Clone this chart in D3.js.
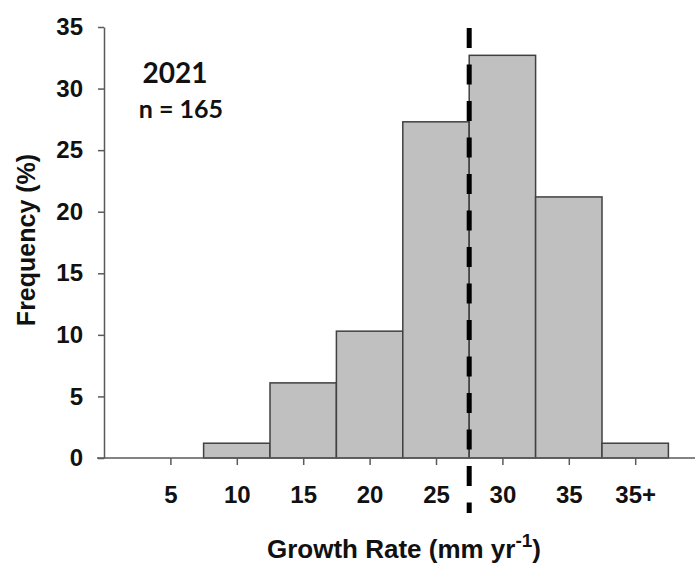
<!DOCTYPE html>
<html>
<head>
<meta charset="utf-8">
<script src="https://cdn.jsdelivr.net/npm/d3@7"></script>
<style>
  body { margin: 0; background: #fff; }
  svg { display: block; }
</style>
</head>
<body>
<svg id="chart"></svg>
<script>
// histogram bins (growth rate, mm/yr) and frequency (%)
const binLabels = ['5', '10', '15', '20', '25', '30', '35', '35+'];
const binCenters = [5, 10, 15, 20, 25, 30, 35, 40];
const frequency = [0, 1.2, 6.1, 10.3, 27.3, 32.7, 21.2, 1.2];
const yTicks = [0, 5, 10, 15, 20, 25, 30, 35];
const refLine = 27.5;
const yearLabel = '2021';
const nLabel = 'n = 165';

const W = 697, H = 565;
const binWidth = 5;

const svg = d3.select('#chart')
  .attr('width', W)
  .attr('height', H);

const x = d3.scaleLinear()
  .domain([0, 45])
  .range([104, 701.6]);

const y = d3.scaleLinear()
  .domain([0, 35])
  .range([458, 27]);

const axisColor = '#5a5a5a';
const font = 'Liberation Sans, Arial, sans-serif';

// bars
svg.selectAll('rect.bar')
  .data(frequency)
  .enter()
  .append('rect')
  .attr('class', 'bar')
  .attr('x', (d, i) => x(binCenters[i] - binWidth / 2))
  .attr('y', d => y(d))
  .attr('width', x(binWidth) - x(0))
  .attr('height', d => y(0) - y(d))
  .style('fill', d => d > 0 ? '#c0c0c0' : 'none')
  .style('stroke', d => d > 0 ? '#404040' : 'none')
  .style('stroke-width', 1.5);

// y axis
const yAxis = svg.append('g')
  .attr('transform', 'translate(' + x(0) + ',0)')
  .call(d3.axisLeft(y).tickValues(yTicks).tickSize(6).tickPadding(15).tickSizeOuter(0));

yAxis.select('.domain').attr('stroke', axisColor).attr('stroke-width', 1.5);
yAxis.selectAll('.tick line').attr('stroke', axisColor).attr('stroke-width', 1.5);
yAxis.selectAll('.tick text')
  .style('font-family', font)
  .style('font-weight', 'bold')
  .style('font-size', '24px')
  .attr('fill', '#111');

// x axis
const xAxis = svg.append('g')
  .attr('transform', 'translate(0,' + y(0) + ')')
  .call(d3.axisBottom(x)
    .tickValues(binCenters)
    .tickFormat((d, i) => binLabels[i])
    .tickSize(7)
    .tickPadding(21)
    .tickSizeOuter(0));

xAxis.select('.domain').remove();
xAxis.append('line')
  .attr('x1', 97)
  .attr('x2', 695)
  .attr('stroke', axisColor)
  .attr('stroke-width', 1.5);
xAxis.selectAll('.tick line').attr('stroke', axisColor).attr('stroke-width', 1.5);
xAxis.selectAll('.tick text')
  .style('font-family', font)
  .style('font-weight', 'bold')
  .style('font-size', '24px')
  .attr('fill', '#111');

// dashed reference line
svg.append('line')
  .attr('x1', x(refLine))
  .attr('x2', x(refLine))
  .attr('y1', 28)
  .attr('y2', 513)
  .attr('stroke', '#000')
  .attr('stroke-width', 5)
  .attr('stroke-dasharray', '20,16.5');

// axis titles
svg.append('text')
  .attr('transform', 'translate(35,240) rotate(-90)')
  .attr('text-anchor', 'middle')
  .style('font-family', font)
  .style('font-weight', 'bold')
  .style('font-size', '25px')
  .attr('fill', '#111')
  .text('Frequency (%)');

const xTitle = svg.append('text')
  .attr('x', 404)
  .attr('y', 558)
  .attr('text-anchor', 'middle')
  .style('font-family', font)
  .style('font-weight', 'bold')
  .style('font-size', '26px')
  .attr('fill', '#111');
xTitle.append('tspan').text('Growth Rate (mm yr');
xTitle.append('tspan').attr('dy', -11).style('font-size', '19px').text('-1');
xTitle.append('tspan').attr('dy', 11).text(')');

// annotations
svg.append('text')
  .attr('x', 175)
  .attr('y', 83)
  .attr('text-anchor', 'middle')
  .style('font-family', 'Lato, sans-serif')
  .style('font-weight', 'bold')
  .style('font-size', '28px')
  .attr('fill', '#111')
  .text(yearLabel);

svg.append('text')
  .attr('x', 181)
  .attr('y', 118)
  .attr('text-anchor', 'middle')
  .style('font-family', 'Lato, sans-serif')
  .style('font-weight', 'bold')
  .style('font-size', '25px')
  .attr('fill', '#111')
  .text(nLabel);
</script>
</body>
</html>
